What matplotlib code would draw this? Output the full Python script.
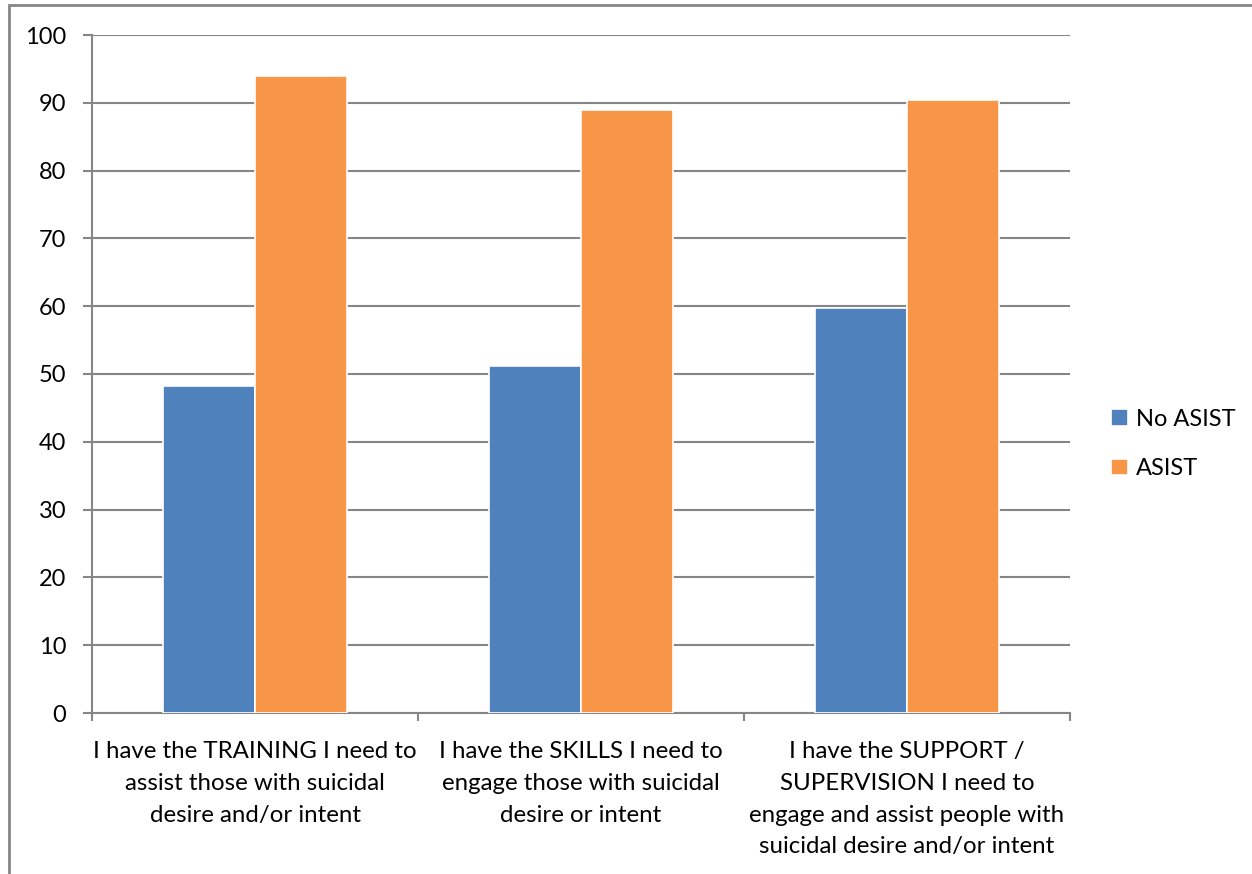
import matplotlib
matplotlib.use("Agg")
import matplotlib.pyplot as plt
from matplotlib.patches import Rectangle
import numpy as np

categories = [
    "I have the TRAINING I need to\nassist those with suicidal\ndesire and/or intent",
    "I have the SKILLS I need to\nengage those with suicidal\ndesire or intent",
    "I have the SUPPORT /\nSUPERVISION I need to\nengage and assist people with\nsuicidal desire and/or intent",
]
no_asist = [48.3, 51.2, 59.7]
asist = [94.0, 89.0, 90.4]
series_names = ["No ASIST", "ASIST"]
yticks = [0, 10, 20, 30, 40, 50, 60, 70, 80, 90, 100]

BLUE = "#4F81BD"
ORANGE = "#F79646"
GRID = "#868686"
FONT = "Lato"

fig = plt.figure(figsize=(12.52, 8.74), dpi=100)
ax = fig.add_axes([92/1252, 1-713/874, (1070-92)/1252, (713-35)/874])

x = np.arange(len(categories))
w = 0.283
ax.bar(x - w/2, no_asist, w, color=BLUE, edgecolor="white", linewidth=1.2, label=series_names[0], zorder=3)
ax.bar(x + w/2, asist, w, color=ORANGE, edgecolor="white", linewidth=1.2, label=series_names[1], zorder=3)

ax.set_xlim(-0.5, len(categories) - 0.5)
ax.set_ylim(0, 100)
ax.set_yticks(yticks)
ax.set_yticklabels([str(v) for v in yticks], fontsize=17, fontname=FONT)
ax.yaxis.grid(True, color=GRID, linewidth=1.5, zorder=0)
ax.set_axisbelow(True)

ax.set_xticks(x)
ax.set_xticklabels(categories, fontsize=17.3, fontname=FONT, linespacing=1.64, va="top", ha="center")
ax.tick_params(axis="x", length=0, pad=20)
ax.set_xticks(np.arange(-0.5, len(categories)), minor=True)
ax.tick_params(axis="x", which="minor", length=6, color=GRID, width=1.5, direction="out")
ax.tick_params(axis="y", length=6.5, color=GRID, width=1.5, direction="out", pad=12)

for s in ["top", "right"]:
    ax.spines[s].set_visible(False)
for s in ["left", "bottom"]:
    ax.spines[s].set_color(GRID)
    ax.spines[s].set_linewidth(1.5)

handles, labels = ax.get_legend_handles_labels()
fig.legend(handles, labels, loc="center left", bbox_to_anchor=(1111/1252, 1 - 444/874), frameon=False,
           prop={"family": FONT, "size": 17}, handlelength=0.7, handleheight=0.7,
           handletextpad=0.35, labelspacing=1.2, borderaxespad=0, borderpad=0)

# chart area border (left & top visible)
fig.patches.append(Rectangle((9/1252, -0.5), 2.0, 1.5 - 5/874, transform=fig.transFigure,
                             fill=False, edgecolor=GRID, linewidth=2))

fig.savefig("out.png", dpi=100)
